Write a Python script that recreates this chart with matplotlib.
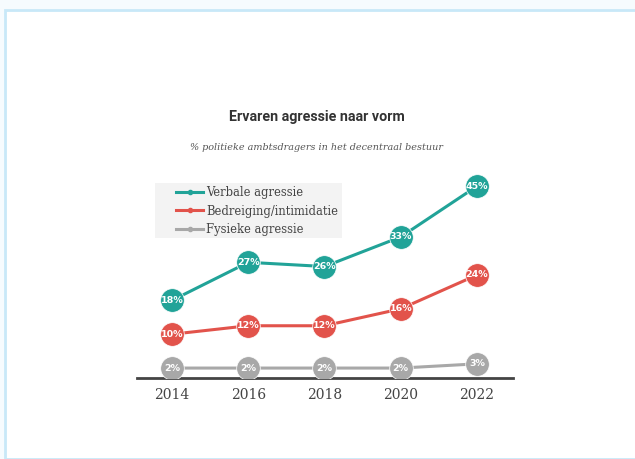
import matplotlib.pyplot as plt
from matplotlib.patches import Rectangle

years = [2014, 2016, 2018, 2020, 2022]
verbaal = [18, 27, 26, 33, 45]
bedreiging = [10, 12, 12, 16, 24]
fysiek = [2, 2, 2, 2, 3]
series_names = ['Verbale agressie', 'Bedreiging/intimidatie', 'Fysieke agressie']
colors = ['#21a398', '#e2534b', '#a8a8a8']

W, H = 635, 459
fig = plt.figure(figsize=(W / 100, H / 100), dpi=100)
fig.patch.set_facecolor('#f6fbfe')

# white card with light-blue border
card = Rectangle((5 / W, 0), 1, 1 - 10 / H, transform=fig.transFigure,
                 facecolor='white', edgecolor='#c8e8f8', linewidth=2, zorder=-5)
fig.patches.append(card)
# legend background box
legbox = Rectangle((155 / W, 1 - 238 / H), (342 - 155) / W, (238 - 183) / H,
                   transform=fig.transFigure, facecolor='#f3f3f3', edgecolor='none', zorder=-4)
fig.patches.append(legbox)

ax = fig.add_axes([137 / W, 1 - 378 / H, (513 - 137) / W, (378 - 165) / H])
ax.set_facecolor('none')
ax.set_zorder(2)

x0 = 2014 - 35 / 38.1
x1 = 2022 + 36 / 38.1
ax.set_xlim(x0, x1)
ax.set_ylim(-0.35, 50)

for vals, c, name in zip([verbaal, bedreiging, fysiek], colors, series_names):
    ax.plot(years, vals, color=c, lw=2.2, zorder=2, label=name,
            marker='o', ms=3, markevery=[])
    ax.plot(years, vals, 'o', color=c, ms=17, mec='white', mew=0.5, zorder=3)
    for x, v in zip(years, vals):
        ax.text(x, v, f'{v}%', color='white', fontsize=6.8, fontweight='bold',
                ha='center', va='center', zorder=4)

for s in ['top', 'right', 'left']:
    ax.spines[s].set_visible(False)
ax.spines['bottom'].set_color('#444444')
ax.spines['bottom'].set_linewidth(2)
ax.set_yticks([])
ax.set_xticks(years)
ax.set_xticklabels([str(y) for y in years], family='DejaVu Serif',
                   fontsize=10, color='#444444')
ax.tick_params(axis='x', length=0, pad=7)

leg = fig.legend(*ax.get_legend_handles_labels(), loc='upper left',
                 bbox_to_anchor=(176 / W, 1 - 186 / H),
                 frameon=False, prop={'family': 'DejaVu Serif', 'size': 8.3},
                 handlelength=2.35, handletextpad=0.26, labelspacing=0.48,
                 borderpad=0, borderaxespad=0)
for t in leg.get_texts():
    t.set_color('#444444')

fig.text(317 / W, 1 - 117 / H, 'Ervaren agressie naar vorm', ha='center', va='center',
         fontsize=10.3, fontweight='bold', color='#333333', family='Roboto')
fig.text(317 / W, 1 - 148 / H, '% politieke ambtsdragers in het decentraal bestuur',
         ha='center', va='center', fontsize=6.9, style='italic', color='#555555',
         family='DejaVu Serif')

fig.savefig('out.png', dpi=100, facecolor=fig.get_facecolor())
